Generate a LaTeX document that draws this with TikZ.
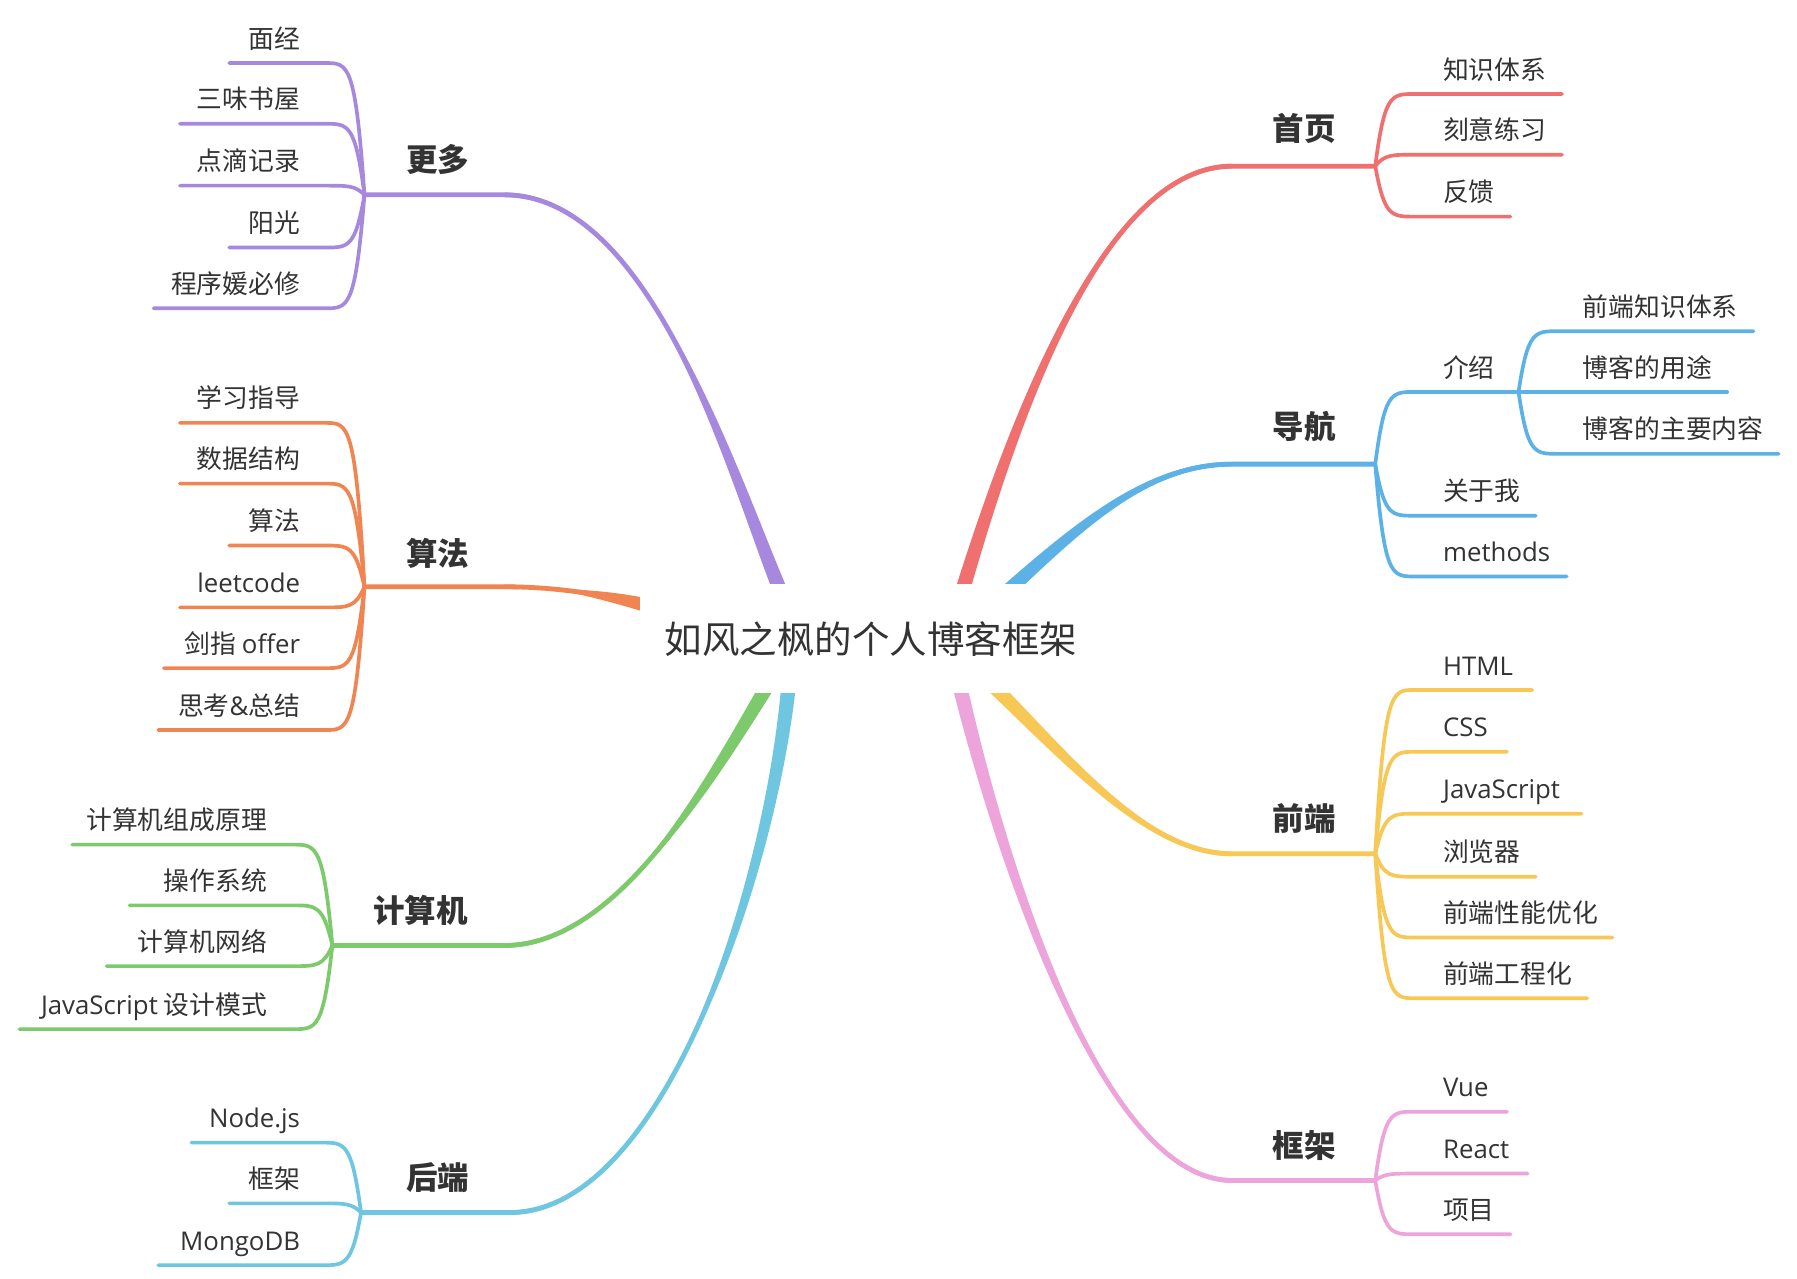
\documentclass[tikz,border=0pt]{standalone}
\usepackage{fontspec}
\setmainfont{Noto Sans CJK SC}
\newfontfamily\lat{Open Sans}
\usetikzlibrary{calc}
\definecolor{cPur}{RGB}{166,137,222}
\definecolor{cOra}{RGB}{240,133,82}
\definecolor{cGre}{RGB}{124,202,108}
\definecolor{cCya}{RGB}{110,198,224}
\definecolor{cRed}{RGB}{240,112,112}
\definecolor{cBlu}{RGB}{92,178,230}
\definecolor{cYel}{RGB}{247,200,86}
\definecolor{cPin}{RGB}{236,164,218}
\definecolor{txt}{RGB}{51,51,51}
\tikzset{
  kid/.style={line width=3.2pt, line cap=round},
  kidL/.style={anchor=base east, inner sep=0pt, text=txt, font=\fontsize{22.5}{26}\selectfont},
  kidR/.style={anchor=base west, inner sep=0pt, text=txt, font=\fontsize{22.5}{26}\selectfont},
  topic/.style={anchor=base, inner sep=0pt, text=txt, font=\fontsize{27.5}{32}\selectfont\bfseries},
  rootnode/.style={fill=white, inner sep=0pt, minimum width=404pt, minimum height=95pt, text=txt, font=\fontsize{32.7}{38}\selectfont}
}
% tapered main branch: #1 colour, #2 P0, #3 P1, #4 P2, #5 P3 (start of thin line), #6 junction name
\newcommand\mainbranch[6]{%
  \coordinate (b0) at #2; \coordinate (b1) at #3; \coordinate (b2) at #4; \coordinate (b3) at #5;
  \coordinate (bl) at ($(b0)!6.5pt!90:(b1)$);
  \coordinate (br) at ($(b0)!6.5pt!-90:(b1)$);
  \draw[#1, line width=4.2pt] (b0) .. controls (b1) and (b2) .. (b3) -- (#6);
  \fill[#1] (bl) .. controls ($(b1)+0.7*(bl)-0.7*(b0)$) and ($(b2)+(0,-2)$) .. ($(b3)+(0,-2)$)
     -- ($(b3)+(0,2)$) .. controls ($(b2)+(0,2)$) and ($(b1)+0.7*(br)-0.7*(b0)$) .. (br) -- cycle;
}
% child connector on the left: #1 colour, #2 junction name, #3 xJ, #4 yc, #5 x left
\newcommand\kidLeft[5]{%
  \draw[#1,kid] (#2) .. controls (#3-8,#4) and (#3-14,#4) .. (#3-34,#4) -- (#5,#4);}
\newcommand\kidRight[5]{%
  \draw[#1,kid] (#2) .. controls (#3+8,#4) and (#3+14,#4) .. (#3+34,#4) -- (#5,#4);}
\begin{document}
\begin{tikzpicture}[x=1pt,y=-1pt]
\useasboundingbox (0,0) rectangle (1568,1116);
\fill[white] (0,0) rectangle (1568,1116);

% junctions
\coordinate (jMore) at (318,170);
\coordinate (jAlg) at (318,512);
\coordinate (jCom) at (290,825);
\coordinate (jBack) at (315,1058);
\coordinate (jHome) at (1200,145);
\coordinate (jNav) at (1200,405);
\coordinate (jIntro) at (1325,342);
\coordinate (jFront) at (1200,745);
\coordinate (jFrame) at (1200,1030);

% main branches
\mainbranch{cPur}{(686,528)}{(640,420)}{(570,170)}{(440,170)}{jMore}
\mainbranch{cOra}{(575,531)}{(520,516)}{(475,512)}{(440,512)}{jAlg}
\mainbranch{cGre}{(676,588)}{(620,680)}{(540,825)}{(440,825)}{jCom}
\mainbranch{cCya}{(689,588)}{(675,760)}{(580,1058)}{(445,1058)}{jBack}
\mainbranch{cRed}{(836,528)}{(880,380)}{(960,145)}{(1075,145)}{jHome}
\mainbranch{cBlu}{(868,526)}{(940,460)}{(1000,405)}{(1075,405)}{jNav}
\mainbranch{cYel}{(858,590)}{(930,660)}{(1000,745)}{(1075,745)}{jFront}
\mainbranch{cPin}{(835,588)}{(870,740)}{(960,1030)}{(1075,1030)}{jFrame}

% central topic (covers the thick ends)
\node[rootnode] (root) at (760,557.5) {如风之枫的个人博客框架};

% main topic labels
\node[topic] (tMore) at (382,150) {更多};
\node[topic] (tAlg) at (382,493) {算法};
\node[topic] (tCom) at (367,805) {计算机};
\node[topic] (tBack) at (382,1038) {后端};
\node[topic] (tHome) at (1138,123) {首页};
\node[topic] (tNav) at (1138,383) {导航};
\node[topic] (tFront) at (1138,725) {前端};
\node[topic] (tFrame) at (1138,1010) {框架};

% ---- 更多
\kidLeft{cPur}{jMore}{318}{55}{200}
\kidLeft{cPur}{jMore}{318}{108}{157}
\kidLeft{cPur}{jMore}{318}{162}{157}
\kidLeft{cPur}{jMore}{318}{216}{200}
\kidLeft{cPur}{jMore}{318}{269}{134}
\node[kidL] (m1) at (262,42) {面经};
\node[kidL] (m2) at (262,95) {三味书屋};
\node[kidL] (m3) at (262,149) {点滴记录};
\node[kidL] (m4) at (262,203) {阳光};
\node[kidL] (m5) at (262,256) {程序媛必修};

% ---- 算法
\kidLeft{cOra}{jAlg}{318}{369}{157}
\kidLeft{cOra}{jAlg}{318}{422}{157}
\kidLeft{cOra}{jAlg}{318}{476}{200}
\kidLeft{cOra}{jAlg}{318}{530}{157}
\kidLeft{cOra}{jAlg}{318}{583}{143}
\kidLeft{cOra}{jAlg}{318}{637}{138}
\node[kidL] (a1) at (262,356) {学习指导};
\node[kidL] (a2) at (262,409) {数据结构};
\node[kidL] (a3) at (262,463) {算法};
\node[kidL] (a4) at (262,517) {\lat leetcode};
\node[kidL] (a5) at (262,570) {剑指 {\lat offer}};
\node[kidL] (a6) at (262,624) {思考{\lat\&}总结};

% ---- 计算机
\kidLeft{cGre}{jCom}{290}{737}{63}
\kidLeft{cGre}{jCom}{290}{790}{113}
\kidLeft{cGre}{jCom}{290}{843}{93}
\kidLeft{cGre}{jCom}{290}{898}{17}
\node[kidL] (c1) at (233,724) {计算机组成原理};
\node[kidL] (c2) at (233,777) {操作系统};
\node[kidL] (c3) at (233,830) {计算机网络};
\node[kidL] (c4) at (233,885) {{\lat JavaScript} 设计模式};

% ---- 后端
\kidLeft{cCya}{jBack}{315}{997}{167}
\kidLeft{cCya}{jBack}{315}{1050}{200}
\kidLeft{cCya}{jBack}{315}{1104}{138}
\node[kidL] (b1n) at (262,984) {\lat Node.js};
\node[kidL] (b2n) at (262,1037) {框架};
\node[kidL] (b3n) at (262,1091) {\lat MongoDB};

% ---- 首页
\kidRight{cRed}{jHome}{1200}{82}{1363}
\kidRight{cRed}{jHome}{1200}{135}{1363}
\kidRight{cRed}{jHome}{1200}{189}{1318}
\node[kidR] (h1) at (1259,69) {知识体系};
\node[kidR] (h2) at (1259,122) {刻意练习};
\node[kidR] (h3) at (1259,176) {反馈};

% ---- 导航
\kidRight{cBlu}{jNav}{1200}{342}{1325}
\kidRight{cBlu}{jNav}{1200}{450}{1340}
\kidRight{cBlu}{jNav}{1200}{503}{1367}
\kidRight{cBlu}{jIntro}{1325}{289}{1530}
\kidRight{cBlu}{jIntro}{1325}{342}{1507}
\kidRight{cBlu}{jIntro}{1325}{396}{1552}
\node[kidR] (n1) at (1259,329) {介绍};
\node[kidR] (n2) at (1259,437) {关于我};
\node[kidR] (n3) at (1259,490) {\lat methods};
\node[kidR] (n11) at (1381,276) {前端知识体系};
\node[kidR] (n12) at (1381,329) {博客的用途};
\node[kidR] (n13) at (1381,383) {博客的主要内容};

% ---- 前端
\kidRight{cYel}{jFront}{1200}{602}{1337}
\kidRight{cYel}{jFront}{1200}{656}{1315}
\kidRight{cYel}{jFront}{1200}{710}{1380}
\kidRight{cYel}{jFront}{1200}{765}{1340}
\kidRight{cYel}{jFront}{1200}{818}{1407}
\kidRight{cYel}{jFront}{1200}{871}{1385}
\node[kidR] (f1) at (1259,589) {\lat HTML};
\node[kidR] (f2) at (1259,643) {\lat CSS};
\node[kidR] (f3) at (1259,697) {\lat JavaScript};
\node[kidR] (f4) at (1259,752) {浏览器};
\node[kidR] (f5) at (1259,805) {前端性能优化};
\node[kidR] (f6) at (1259,858) {前端工程化};

% ---- 框架
\kidRight{cPin}{jFrame}{1200}{970}{1315}
\kidRight{cPin}{jFrame}{1200}{1024}{1333}
\kidRight{cPin}{jFrame}{1200}{1077}{1318}
\node[kidR] (k1) at (1259,957) {\lat Vue};
\node[kidR] (k2) at (1259,1011) {\lat React};
\node[kidR] (k3) at (1259,1064) {项目};
\end{tikzpicture}
\end{document}
